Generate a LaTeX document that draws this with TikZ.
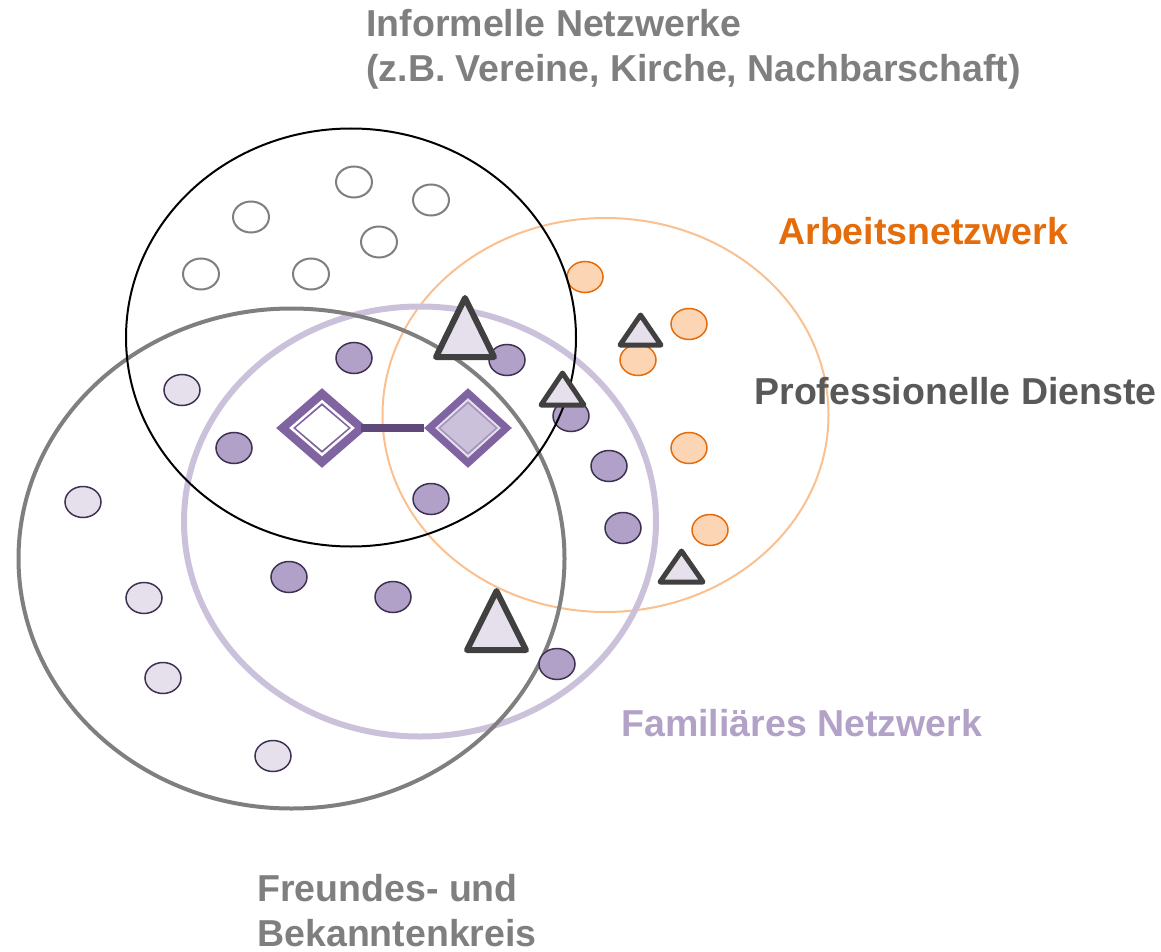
\documentclass[tikz,border=0pt]{standalone}
\usepackage{fontspec}
\setmainfont{Liberation Sans}
\usetikzlibrary{shapes.geometric}

\definecolor{txtgray}{HTML}{7F7F7F}
\definecolor{txtdark}{HTML}{595959}
\definecolor{workorange}{HTML}{E46C0A}
\definecolor{worklight}{HTML}{FCD5B5}
\definecolor{workring}{HTML}{FAC090}
\definecolor{famtext}{HTML}{B3A2C7}
\definecolor{famring}{HTML}{CCC1DA}
\definecolor{famdot}{HTML}{B1A0C7}
\definecolor{famlight}{HTML}{E6E0EC}
\definecolor{famline}{HTML}{3F3151}
\definecolor{fampurple}{HTML}{8064A2}
\definecolor{fambar}{HTML}{5F497A}
\definecolor{trigray}{HTML}{404040}

\tikzset{
  dot/.style={ellipse, inner sep=0pt, minimum width=18pt, minimum height=15.5pt, line width=0.75pt},
  infdot/.style={dot, draw=txtgray, line width=1pt, fill=white},
  frienddot/.style={dot, draw=famline, fill=famlight},
  famdotstyle/.style={dot, draw=famline, fill=famdot},
  workdot/.style={dot, draw=workorange, fill=worklight},
  tri/.style={draw=trigray, fill=famlight, line width=3pt, line join=round},
  smalltri/.style={tri, line width=2.5pt},
  egobox/.style={diamond, inner sep=0pt, minimum width=#1},
  label/.style={font=\fontsize{18.75pt}{22.5pt}\selectfont\bfseries, inner sep=0pt, align=left, anchor=base west},
}

\begin{document}
\begin{tikzpicture}[x=0.5pt, y=-0.5pt]
	\useasboundingbox (0,0) rectangle (1161,952);
	
	% Netzwerk-Kreise
	\draw[workring, line width=1pt] (605.5,415) ellipse [x radius=223, y radius=197];
	\draw[famring, line width=3pt] (420,521.5) ellipse [x radius=236, y radius=215];
	\draw[txtgray, line width=2pt] (291.5,558.5) ellipse [x radius=273, y radius=250];
	
	% informelle Kontakte
	\foreach \p [count=\i] in {(354,182),(431,200),(251,217),(379,242),(201,274),(311,274)}
		\node[infdot] (inf\i) at \p {};
	
	% Freunde und Bekannte
	\foreach \p [count=\i] in {(182,390),(83,502),(144,598),(163,678),(273,756)}
		\node[frienddot] (fr\i) at \p {};
	
	% Familie
	\foreach \p [count=\i] in {(354,358),(507,360),(234,448),(571,416),(609,466),(431,499),(623,528),(289,577),(393,597),(557,664)}
		\node[famdotstyle] (fam\i) at \p {};
	
	% Arbeit
	\foreach \p [count=\i] in {(585,277),(689,324),(638,360),(689,448),(710,530)}
		\node[workdot] (work\i) at \p {};
	
	\draw[black, line width=1pt] (351,337.5) ellipse [x radius=225, y radius=209];
	
	% professionelle Dienste
	\draw[tri] (436,357) -- (465,298) -- (494,357) -- cycle;
	\draw[tri] (467,650) -- (496.5,591) -- (526,650) -- cycle;
	\draw[smalltri] (620,345) -- (640.5,315) -- (661,345) -- cycle;
	\draw[smalltri] (541,405) -- (562.5,373) -- (584,405) -- cycle;
	\draw[smalltri] (660,582) -- (681.5,551) -- (703,582) -- cycle;
	
	% Ego und Partner
	\node[egobox=46pt, minimum height=40pt, fill=fampurple] (ego) at (322,428) {};
	\node[egobox=33pt, minimum height=28.5pt, fill=white] at (ego) {};
	\node[egobox=29pt, minimum height=25pt, fill=fampurple] at (ego) {};
	\node[egobox=26.5pt, minimum height=22.5pt, fill=white] at (ego) {};
	
	\node[egobox=44pt, minimum height=40pt, fill=fampurple] (partner) at (468,428) {};
	\node[egobox=33pt, minimum height=30pt, fill=famlight] at (partner) {};
	\node[egobox=30pt, minimum height=27pt, fill=fampurple!70] at (partner) {};
	\node[egobox=27.5pt, minimum height=24.5pt, fill=famring] at (partner) {};
	
	\draw[fambar, line width=4pt] ([xshift=-3.5pt]ego.east) -- (partner.west);
	
	% Beschriftungen
	\node[label, txtgray] (informal) at (366,82) {Informelle Netzwerke\\(z.B. Vereine, Kirche, Nachbarschaft)};
	\node[label, workorange] (work) at (778,245) {Arbeitsnetzwerk};
	\node[label, txtdark] (services) at (754,404) {Professionelle Dienste};
	\node[label, famtext] (family) at (621,736) {Familiäres Netzwerk};
	\node[label, txtgray] (friends) at (257,946) {Freundes- und\\Bekanntenkreis};
	
\end{tikzpicture}
\end{document}
